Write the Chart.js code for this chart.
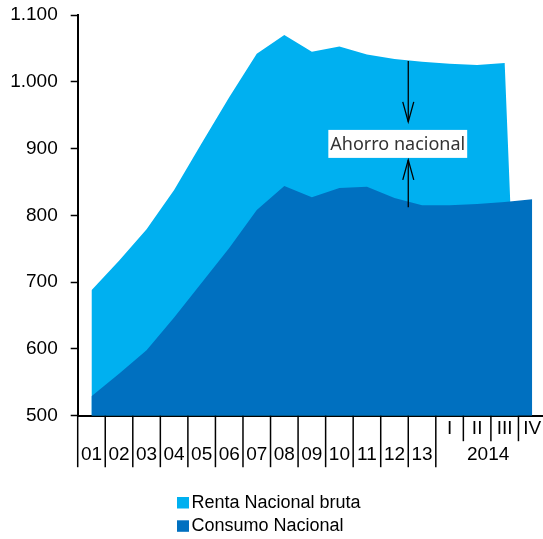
<!DOCTYPE html>
<html><head><meta charset="utf-8">
<script src="https://cdn.jsdelivr.net/npm/chart.js@4.4.1/dist/chart.umd.min.js"></script>
<style>html,body{margin:0;padding:0;background:#fff;overflow:hidden;width:543px;height:539px}canvas{display:block}</style>
</head><body><canvas id="c" width="550" height="539"></canvas>
<script>
// ---- data ----
const years = ['01','02','03','04','05','06','07','08','09','10','11','12','13'];
const quarters = ['I','II','III','IV'];
const quarterYear = '2014';
const categories = years.concat(quarters);
const rentaNacionalBruta = [688,732,779,838,908,977,1042,1070,1045,1053,1041,1034,1030,1027,1025,1028,0];
const consumoNacional   = [529,563,598,647,699,751,808,844,827,841,843,826,815,815,817,820,824];
const seriesNames = ['Renta Nacional bruta','Consumo Nacional'];
const yMin = 500, yMax = 1100, yStep = 100;
const annotationText = 'Ahorro nacional';
const annotationArrowDown = [1031, 940];
const annotationArrowUp = [812, 883];
const annotationTextValue = 907;

// ---- styles ----
const LIGHT = '#00B0F0', DARK = '#0070C0';
const FONT = '"Liberation Sans", Arial, sans-serif';
const fmt = v => String(v).replace(/\B(?=(\d{3})+(?!\d))/g, '.');

const overlay = {
  id: 'overlay',
  afterDraw(chart) {
    const {ctx, chartArea: a, scales: {x, y}} = chart;
    const base = y.getPixelForValue(yMin);
    ctx.save();
    ctx.strokeStyle = '#000';
    ctx.lineWidth = 1.5;
    const seg = (x1, y1, x2, y2) => { ctx.beginPath(); ctx.moveTo(x1, y1); ctx.lineTo(x2, y2); ctx.stroke(); };
    // category separators
    for (let i = 0; i <= years.length; i++) {
      const px = x.getPixelForValue(i - 0.5);
      seg(px, base, px, base + 51.5);
    }
    for (let i = years.length + 1; i < categories.length; i++) {
      const px = x.getPixelForValue(i - 0.5);
      seg(px, base, px, base + 25.5);
    }
    // group label
    ctx.fillStyle = '#000';
    ctx.font = '19px ' + FONT;
    ctx.textAlign = 'center';
    ctx.textBaseline = 'middle';
    ctx.fillText(quarterYear, x.getPixelForValue(years.length + 1.4), base + 39.5);

    // annotation arrows
    const ax = x.getPixelForValue(years.length - 1.5);
    ctx.lineWidth = 1.3;
    const arrow = (v1, v2) => {
      const y1 = y.getPixelForValue(v1), y2 = y.getPixelForValue(v2);
      const d = y2 > y1 ? -1 : 1;
      seg(ax, y1, ax, y2);
      ctx.beginPath();
      ctx.moveTo(ax - 5.5, y2 + d * 20); ctx.lineTo(ax, y2); ctx.lineTo(ax + 5.5, y2 + d * 20);
      ctx.stroke();
    };
    arrow(annotationArrowDown[0], annotationArrowDown[1]);
    arrow(annotationArrowUp[0], annotationArrowUp[1]);
    // annotation label
    ctx.font = '18px "Noto Sans", "Open Sans", sans-serif';
    const tw = ctx.measureText(annotationText).width;
    const cx = ax - 10.5, cy = y.getPixelForValue(annotationTextValue);
    ctx.fillStyle = '#fff';
    ctx.fillRect(cx - tw / 2 - 2, cy - 14, tw + 4, 28);
    ctx.fillStyle = '#333';
    ctx.fillText(annotationText, cx, cy + 1);

    // legend
    ctx.font = '18px ' + FONT;
    ctx.textAlign = 'left';
    ctx.textBaseline = 'alphabetic';
    const colors = [LIGHT, DARK];
    seriesNames.forEach((n, i) => {
      const top = 497 + i * 23.3;
      ctx.fillStyle = colors[i];
      ctx.fillRect(177, top, 12, 11.5);
      ctx.fillStyle = '#000';
      ctx.fillText(n, 191.5, top + 10.5);
    });
    ctx.restore();
  }
};

new Chart(document.getElementById('c'), {
  type: 'line',
  data: {
    labels: categories,
    datasets: [
      {label: seriesNames[0], data: rentaNacionalBruta, backgroundColor: LIGHT, borderColor: 'rgba(0,0,0,0)',
       borderWidth: 0, pointRadius: 0, fill: 'start', order: 1, tension: 0},
      {label: seriesNames[1], data: consumoNacional, backgroundColor: DARK, borderColor: 'rgba(0,0,0,0)',
       borderWidth: 0, pointRadius: 0, fill: 'start', order: 0, tension: 0}
    ]
  },
  options: {
    responsive: false,
    animation: false,
    layout: {padding: {top: 15, right: 4, left: 0, bottom: 0}},
    plugins: {legend: {display: false}, tooltip: {enabled: false}},
    scales: {
      x: {
        type: 'category', offset: true, z: 1,
        grid: {display: false, drawTicks: false},
        border: {display: true, color: '#000', width: 2},
        ticks: {
          autoSkip: false, maxRotation: 0, minRotation: 0, padding: 0, color: '#000',
          font: {family: FONT, size: 19, lineHeight: 26 / 19},
          callback(v, i) { const l = categories[i]; return i < years.length ? ['', l] : [l, '']; }
        },
        afterFit(s) { s.height = 123.3; }
      },
      y: {
        min: yMin, max: yMax, z: 1,
        grid: {drawOnChartArea: false, drawTicks: true, tickLength: 7, tickWidth: 1.5, tickColor: '#000'},
        border: {display: true, color: '#000', width: 2},
        ticks: {stepSize: yStep, padding: 13, color: '#000', font: {family: FONT, size: 19}, callback: v => fmt(v)},
        afterFit(s) { s.width = 77.7; s.paddingTop = 0; s.paddingBottom = 0; }
      }
    }
  },
  plugins: [overlay]
});
</script></body></html>
